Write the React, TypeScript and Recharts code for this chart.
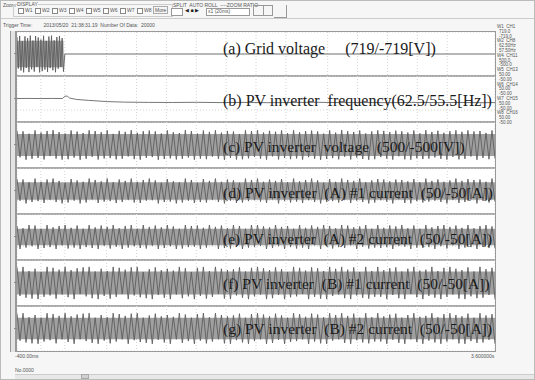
import React from 'react';
import { ComposedChart, Line, Area, XAxis, YAxis, CartesianGrid } from 'recharts';

const TIME_START = -0.4;
const TIME_END = 3.6;

const gridBurst = [560, -470, 590, -540, 420, -600, 575, -455, 520, -590, 600, -500, 440, -575, 585, -420, 540, -600, 470, -560, 595, -510, 430, -585, 570, -460, 600, -530, 445, -595, 555, -480, 590, -425, 520, -575];
const gridAfter = [0, 0];

const freqTimes = [-0.4, -0.3, -0.2, -0.1, -0.02, 0.0, 0.02, 0.04, 0.1, 0.2, 0.35, 0.5, 0.7, 0.9, 1.1, 1.3, 1.5, 1.7, 1.9, 2.1, 2.3, 2.5, 2.7, 2.9, 3.1, 3.3, 3.5, 3.6];
const freqValues = [60.05, 60.06, 60.05, 60.06, 60.05, 60.3, 60.32, 60.1, 59.95, 59.85, 59.72, 59.66, 59.63, 59.62, 59.64, 59.61, 59.63, 59.6, 59.62, 59.64, 59.61, 59.62, 59.6, 59.63, 59.61, 59.62, 59.6, 59.61];

const voltageC = [
  312, -268, 298, -320, 245, -301, 318, -282, 270, -315,
  305, -240, 322, -296, 281, -318, 250, -309, 316, -274,
  292, -322, 262, -300, 319, -255, 304, -316, 278, -293,
  320, -285, 241, -312, 308, -299, 286, -248, 321, -307,
  266, -319, 300, -280, 314, -262, 295, -321, 250, -305,
  317, -290, 276, -314, 259, -300, 322, -271, 303, -318,
  248, -296, 315, -308, 285, -252, 319, -302, 268, -321,
  306, -277, 292, -316, 240, -311, 318, -289, 301, -260,
  321, -298, 270, -319, 309, -246, 288, -314, 317, -283,
  258, -308, 320, -292, 276, -317, 302, -265, 313, -300,
  295, -321, 247, -304, 318, -286, 269, -312, 322, -254,
  300, -315, 284, -272, 316, -303, 251, -320, 294, -309,
  319, -263, 307, -298, 280, -318, 312, -244, 297, -311,
  272, -320, 316, -288, 253, -306, 321, -296, 284, -270,
  310, -301, 266, -317, 299, -258, 320, -312, 287, -302,
  318, -249, 294, -321, 305, -280, 263, -309, 316, -292,
];
const currentD = [
  26, -21, 25, -27, 19, -24, 27, -22, 20, -26,
  25, -19, 27, -24, 22, -27, 18, -25, 26, -21,
  23, -27, 20, -25, 27, -18, 24, -26, 21, -23,
  27, -22, 19, -26, 25, -24, 22, -19, 27, -25,
  20, -26, 24, -21, 27, -20, 23, -27, 18, -24,
  26, -23, 21, -27, 19, -25, 27, -21, 24, -26,
  18, -24, 26, -25, 22, -19, 27, -24, 20, -27,
  25, -21, 23, -26, 18, -25, 27, -22, 24, -20,
  27, -23, 20, -26, 25, -18, 22, -27, 26, -22,
  19, -25, 27, -23, 21, -26, 24, -20, 27, -24,
  23, -27, 18, -24, 26, -22, 20, -25, 27, -19,
  24, -26, 22, -21, 27, -24, 19, -27, 23, -25,
  26, -20, 25, -23, 21, -27, 25, -18, 24, -26,
  21, -27, 26, -22, 19, -25, 27, -23, 22, -21,
  25, -24, 20, -27, 23, -19, 27, -26, 22, -24,
  26, -18, 24, -27, 25, -21, 20, -25, 27, -23,
];
const currentE = [
  24, -26, 19, -23, 26, -20, 25, -26, 18, -24,
  26, -22, 21, -26, 24, -18, 26, -25, 20, -23,
  25, -26, 18, -22, 26, -24, 21, -26, 25, -19,
  22, -25, 26, -21, 19, -26, 24, -23, 26, -20,
  18, -24, 26, -25, 22, -19, 25, -26, 21, -24,
  26, -20, 23, -26, 18, -25, 26, -22, 24, -21,
  25, -26, 20, -23, 26, -18, 22, -26, 25, -24,
  19, -25, 26, -21, 24, -26, 18, -23, 26, -22,
  26, -19, 23, -26, 21, -24, 26, -20, 22, -26,
  24, -22, 18, -25, 26, -23, 20, -26, 25, -18,
  22, -26, 26, -20, 24, -25, 19, -22, 26, -24,
  25, -18, 21, -26, 23, -21, 26, -25, 18, -23,
  26, -24, 20, -22, 25, -26, 23, -19, 26, -21,
  19, -26, 25, -23, 18, -24, 26, -22, 21, -26,
  24, -20, 26, -25, 22, -18, 25, -26, 20, -23,
  26, -22, 19, -26, 24, -21, 26, -24, 23, -25,
];
const currentF = [
  34, -28, 35, -32, 26, -34, 31, -35, 24, -30,
  35, -27, 33, -34, 29, -25, 35, -31, 28, -35,
  32, -24, 34, -29, 35, -33, 25, -35, 31, -28,
  26, -34, 35, -30, 33, -24, 29, -35, 34, -27,
  35, -31, 24, -33, 30, -35, 34, -26, 28, -32,
  31, -35, 27, -25, 35, -33, 32, -29, 24, -35,
  33, -28, 35, -34, 26, -30, 35, -24, 31, -34,
  28, -35, 30, -27, 34, -32, 25, -35, 33, -29,
  35, -25, 32, -35, 28, -33, 34, -26, 30, -35,
  24, -31, 35, -29, 33, -24, 27, -35, 34, -30,
  32, -34, 26, -35, 35, -28, 31, -25, 35, -33,
  29, -35, 34, -27, 24, -32, 35, -34, 26, -30,
  35, -30, 28, -35, 32, -26, 34, -33, 25, -35,
  31, -24, 35, -31, 27, -35, 29, -28, 35, -32,
  26, -35, 33, -30, 35, -25, 31, -34, 28, -35,
  34, -29, 25, -33, 35, -32, 30, -26, 33, -35,
];
const currentG = [
  33, -27, 34, -31, 25, -33, 30, -34, 24, -29,
  34, -26, 32, -33, 28, -24, 34, -30, 27, -34,
  31, -24, 33, -28, 34, -32, 24, -34, 30, -27,
  25, -33, 34, -29, 32, -24, 28, -34, 33, -26,
  34, -30, 24, -32, 29, -34, 33, -25, 27, -31,
  30, -34, 26, -24, 34, -32, 31, -28, 24, -34,
  32, -27, 34, -33, 25, -29, 34, -24, 30, -33,
  27, -34, 29, -26, 33, -31, 24, -34, 32, -28,
  34, -24, 31, -34, 27, -32, 33, -25, 29, -34,
  24, -30, 34, -28, 32, -24, 26, -34, 33, -29,
  31, -33, 25, -34, 34, -27, 30, -24, 34, -32,
  28, -34, 33, -26, 24, -31, 34, -33, 25, -29,
  34, -29, 27, -34, 31, -25, 33, -32, 24, -34,
  30, -24, 34, -30, 26, -34, 28, -27, 34, -31,
  25, -34, 32, -29, 34, -24, 30, -33, 27, -34,
  33, -28, 24, -32, 34, -31, 29, -25, 32, -34,
];

const envelopes = { grid: 430, c: 240, d: 19, e: 18, f: 25, g: 24 };

const panelLabels = [
  '(a) Grid voltage     (719/-719[V])',
  '(b) PV inverter  frequency(62.5/55.5[Hz])',
  '(c) PV inverter  voltage  (500/-500[V])',
  '(d) PV inverter  (A) #1 current  (50/-50[A])',
  '(e) PV inverter  (A) #2 current  (50/-50[A])',
  '(f) PV inverter  (B) #1 current  (50/-50[A])',
  '(g) PV inverter  (B) #2 current  (50/-50[A])',
];
const labelSizes = [16, 16, 15.5, 15.5, 15.5, 15.5, 15.5];
const labelShift = [-5, 2, 2, 2, 2, 1, 0];
const legendLines = ['W1  CH1', '719.0', '-719.0', 'W2  CH8', '62.50Hz', '57.50Hz', 'W4  CH11', '500.0', '-500.0', 'W5  CH13', '50.00', '-50.00', 'W6  CH14', '50.00', '-50.00', 'W7  CH15', '50.00', '-50.00', 'W8  CH16', '50.00', '-50.00'];
const timeTickLabels = ['-400.00ms', '3.600000s'];
const displayChecks = ['W1', 'W2', 'W3', 'W4', 'W5', 'W6', 'W7', 'W8'];

const gridTicksX = Array.from({ length: 81 }, (_, i) => TIME_START + i * 0.05);

const span = TIME_END - TIME_START;
function denseRows(values: number[], env: number) {
  const n = values.length;
  return values.map((v, i) => ({ t: TIME_START + (i * span) / (n - 1), v, band: [-env, env] }));
}
const gridRows = [
  ...gridBurst.map((v, i) => ({ t: TIME_START + (i * 0.4) / gridBurst.length, v, band: [-envelopes.grid, envelopes.grid] })),
  { t: 0, v: gridAfter[0] },
  { t: TIME_END, v: gridAfter[1] },
];
const freqRows = freqTimes.map((t, i) => ({ t, v: freqValues[i] }));

const panels = [
  { top: 31, h: 44, data: gridRows, dom: [-719, 719], band: true },
  { top: 75, h: 46, data: freqRows, dom: [57.5, 62.5], band: false },
  { top: 121, h: 46, data: denseRows(voltageC, envelopes.c), dom: [-500, 500], band: true },
  { top: 167, h: 46, data: denseRows(currentD, envelopes.d), dom: [-50, 50], band: true },
  { top: 213, h: 46, data: denseRows(currentE, envelopes.e), dom: [-50, 50], band: true },
  { top: 259, h: 46, data: denseRows(currentF, envelopes.f), dom: [-50, 50], band: true },
  { top: 305, h: 45, data: denseRows(currentG, envelopes.g), dom: [-50, 50], band: true },
];

const PLOT_LEFT = 16;
const PLOT_W = 478;

const small: React.CSSProperties = { position: 'absolute', fontFamily: 'Arial, "Liberation Sans", sans-serif', fontSize: 5, color: '#555', whiteSpace: 'pre', lineHeight: '6px' };

export default function App() {
  return (
    <div style={{ position: 'fixed', left: 0, top: 0, width: 535, height: 380, background: '#f6f6f6', overflow: 'hidden', border: '1px solid #bbb', boxSizing: 'border-box' }}>
      {/* toolbar */}
      <div style={{ ...small, left: 2, top: 1 }}>Zoom</div>
      <div style={{ position: 'absolute', left: 12, top: 3, width: 158, height: 11, border: '1px solid #ccc' }} />
      <div style={{ ...small, left: 16, top: 0, background: '#f6f6f6' }}>DISPLAY</div>
      {displayChecks.map((w, i) => (
        <div key={w} style={{ ...small, left: 17 + i * 17, top: 6 }}>
          <span style={{ display: 'inline-block', width: 4, height: 4, border: '1px solid #888', marginRight: 1, verticalAlign: 'middle', background: '#fff' }} />
          {w}
        </div>
      ))}
      <div style={{ ...small, left: 152, top: 5, border: '1px solid #aaa', padding: '0 1px' }}>More</div>
      <div style={{ ...small, left: 172, top: 1 }}>SPLIT  AUTO ROLL  ----ZOOM RATIO</div>
      <div style={{ position: 'absolute', left: 170, top: 7, width: 10, height: 6, border: '1px solid #999', background: '#fff' }} />
      <div style={{ ...small, left: 184, top: 6, color: '#222' }}>◀ ■ ▶</div>
      <div style={{ position: 'absolute', left: 205, top: 7, width: 42, height: 6, border: '1px solid #999', background: '#fff' }} />
      <div style={{ ...small, left: 207, top: 7 }}>x1 (20ms)</div>
      <div style={{ position: 'absolute', left: 252, top: 4, width: 9, height: 9, border: '1px solid #999' }} />
      <div style={{ position: 'absolute', left: 262, top: 4, width: 8, height: 9, border: '1px solid #999' }} />
      <div style={{ position: 'absolute', left: 273, top: 4, width: 12, height: 12, borderRight: '1px solid #999', borderBottom: '1px solid #999' }} />
      <div style={{ position: 'absolute', left: 0, top: 17, width: 535, height: 1, background: '#ccc' }} />
      <div style={{ ...small, left: 2, top: 21 }}>Trigger Time:        2013/05/20  21:38:31.19  Number Of Data:  20000</div>

      {/* left strip */}
      <div style={{ position: 'absolute', left: 9, top: 30, width: 4, height: 321, borderLeft: '1px solid #999', borderRight: '1px solid #999', background: '#e4e4e4' }} />

      {/* plot frame */}
      <div style={{ position: 'absolute', left: PLOT_LEFT - 1, top: 30, width: PLOT_W + 2, height: 321, border: '1px solid #999', boxSizing: 'border-box', background: '#fff' }} />

      {panels.map((p, idx) => (
        <div key={idx} style={{ position: 'absolute', left: PLOT_LEFT, top: p.top, width: PLOT_W, height: p.h }}>
          <ComposedChart width={PLOT_W} height={p.h} data={p.data} margin={{ top: 0, right: 0, bottom: 0, left: 0 }}>
            <CartesianGrid stroke="#d4d4d4" strokeDasharray="1 2" />
            <XAxis dataKey="t" type="number" domain={[TIME_START, TIME_END]} ticks={gridTicksX} hide />
            <YAxis type="number" domain={p.dom} hide tickCount={9} allowDataOverflow />
            {p.band && <Area dataKey="band" stroke="none" fill="#a0a0a0" fillOpacity={1} isAnimationActive={false} connectNulls={false} />}
            <Line dataKey="v" stroke={p.band ? '#5e5e5e' : '#777'} strokeWidth={p.band ? 0.9 : 1} dot={false} isAnimationActive={false} />
          </ComposedChart>
          {idx < panels.length - 1 && (
            <div style={{ position: 'absolute', left: 0, bottom: -1, width: PLOT_W, height: 2, background: '#aaa' }} />
          )}
          <div style={{ position: 'absolute', left: -3, top: p.h / 2 - 1, width: 3, height: 1, background: '#888' }} />
          <div style={{ position: 'absolute', left: 206, top: labelShift[idx], height: p.h, display: 'flex', alignItems: 'center', fontFamily: '"Liberation Serif", "Times New Roman", serif', fontSize: labelSizes[idx], color: '#1a1a1a', whiteSpace: 'pre' }}>
            {panelLabels[idx]}
          </div>
        </div>
      ))}

      {/* right legend */}
      {legendLines.map((l, i) => (
        <div key={i} style={{ ...small, left: i % 3 === 0 ? 496 : 498, top: 23 + i * 4.8, fontSize: 4.5, lineHeight: '5px' }}>{l}</div>
      ))}

      {/* bottom */}
      <div style={{ ...small, left: 14, top: 352 }}>{timeTickLabels[0]}</div>
      <div style={{ ...small, left: 470, top: 352 }}>{timeTickLabels[1]}</div>
      <div style={{ ...small, left: 14, top: 366 }}>No.0000</div>
      <div style={{ position: 'absolute', left: 14, top: 373, width: 519, height: 5, background: '#e8e8e8', borderTop: '1px solid #ccc' }} />
      <div style={{ position: 'absolute', left: 80, top: 373, width: 8, height: 5, background: '#d0d0d0', border: '1px solid #aaa', boxSizing: 'border-box' }} />
    </div>
  );
}
